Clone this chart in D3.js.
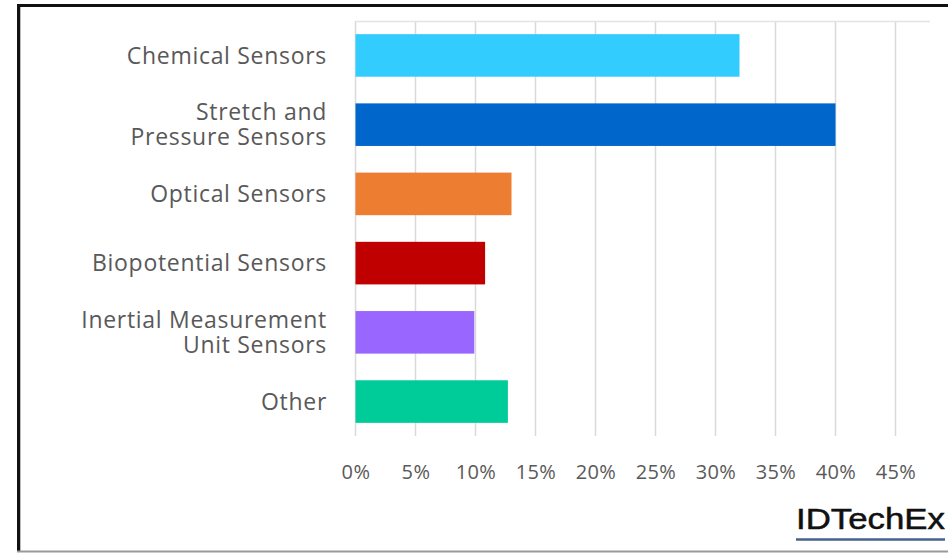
<!DOCTYPE html>
<html>
<head>
<meta charset="utf-8">
<script src="https://cdn.jsdelivr.net/npm/d3@7"></script>
<style>
  body { margin: 0; background: #fff; }
  svg { display: block; }
  text { font-family: "Open Sans", sans-serif; }
</style>
</head>
<body>
<div id="chart"></div>
<script>
// data
var categories = ["Chemical Sensors", "Stretch and|Pressure Sensors", "Optical Sensors",
  "Biopotential Sensors", "Inertial Measurement|Unit Sensors", "Other"];
var shares = [0.32, 0.40, 0.13, 0.108, 0.099, 0.127];
var barColors = ["#33CCFF", "#0066CC", "#ED7D31", "#C00000", "#9966FF", "#00CC99"];
var tickValues = [0, 0.05, 0.10, 0.15, 0.20, 0.25, 0.30, 0.35, 0.40, 0.45];

var width = 948, height = 554;

var svg = d3.select("#chart").append("svg")
  .attr("width", width)
  .attr("height", height);

var x = d3.scaleLinear()
  .domain([0, 0.45])
  .range([355.5, 895.5]);

var y = d3.scaleBand()
  .domain(categories)
  .range([21, 436])
  .paddingInner(0.385)
  .paddingOuter(0.19);

// frame
svg.append("line").attr("x1", 18.5).attr("x2", 18.5).attr("y1", 4).attr("y2", 552)
  .attr("stroke", "#111").attr("stroke-width", 3);
svg.append("line").attr("x1", 17).attr("x2", width).attr("y1", 5.5).attr("y2", 5.5)
  .attr("stroke", "#111").attr("stroke-width", 3);
svg.append("line").attr("x1", 20.5).attr("x2", 20.5).attr("y1", 7).attr("y2", 551)
  .attr("stroke", "#bbb").attr("stroke-width", 1);
svg.append("line").attr("x1", 17).attr("x2", width).attr("y1", 551.5).attr("y2", 551.5)
  .attr("stroke", "#999").attr("stroke-width", 2);

// gridlines
svg.append("g").selectAll("line")
  .data(tickValues)
  .enter().append("line")
  .attr("x1", function (d) { return x(d); })
  .attr("x2", function (d) { return x(d); })
  .attr("y1", 21)
  .attr("y2", 436)
  .attr("stroke", "#d9d9d9")
  .attr("stroke-width", 1.5);

svg.append("line")
  .attr("x1", x(0)).attr("x2", 930)
  .attr("y1", 21.5).attr("y2", 21.5)
  .attr("stroke", "#e3e3e3").attr("stroke-width", 1.5);

// bars
svg.append("g").selectAll("rect")
  .data(shares)
  .enter().append("rect")
  .attr("x", x(0))
  .attr("y", function (d, i) { return y(categories[i]); })
  .attr("width", function (d) { return x(d) - x(0); })
  .attr("height", y.bandwidth())
  .attr("fill", function (d, i) { return barColors[i]; });

// x axis labels
var xAxis = svg.append("g")
  .attr("transform", "translate(0,472)")
  .call(d3.axisBottom(x).tickValues(tickValues).tickSize(0).tickFormat(d3.format(".0%")));
xAxis.select(".domain").remove();
xAxis.selectAll("text")
  .attr("dy", "0.35em")
  .attr("y", 0)
  .style("font-family", "'Open Sans', sans-serif")
  .style("font-size", "20px")
  .style("letter-spacing", "0.4px")
  .attr("fill", "#595959");

// category labels, one text per line
var yAxis = svg.append("g")
  .attr("transform", "translate(327,0)")
  .call(d3.axisLeft(y).tickSize(0).tickPadding(0).tickFormat(""));
yAxis.select(".domain").remove();
yAxis.selectAll(".tick").each(function (d) {
  var lines = d.split("|");
  var tick = d3.select(this);
  lines.forEach(function (ln, k) {
    tick.append("text")
      .attr("text-anchor", "end")
      .attr("fill", "#595959")
      .style("font-size", "23px")
      .style("letter-spacing", "0.7px")
      .attr("x", 0)
      .attr("y", (k - (lines.length - 1) / 2) * 25)
      .attr("dy", "0.35em")
      .text(ln);
  });
});

// logo
svg.append("text")
  .attr("x", 796)
  .attr("y", 529)
  .attr("textLength", 149)
  .attr("lengthAdjust", "spacingAndGlyphs")
  .style("font-family", "'Liberation Sans', Arial, sans-serif")
  .style("font-size", "29px")
  .attr("fill", "#111")
  .attr("stroke", "#111")
  .attr("stroke-width", 0.5)
  .text("IDTechEx");
svg.append("line")
  .attr("x1", 796).attr("x2", 945)
  .attr("y1", 539.5).attr("y2", 539.5)
  .attr("stroke", "#44618f").attr("stroke-width", 2.5);
</script>
</body>
</html>
